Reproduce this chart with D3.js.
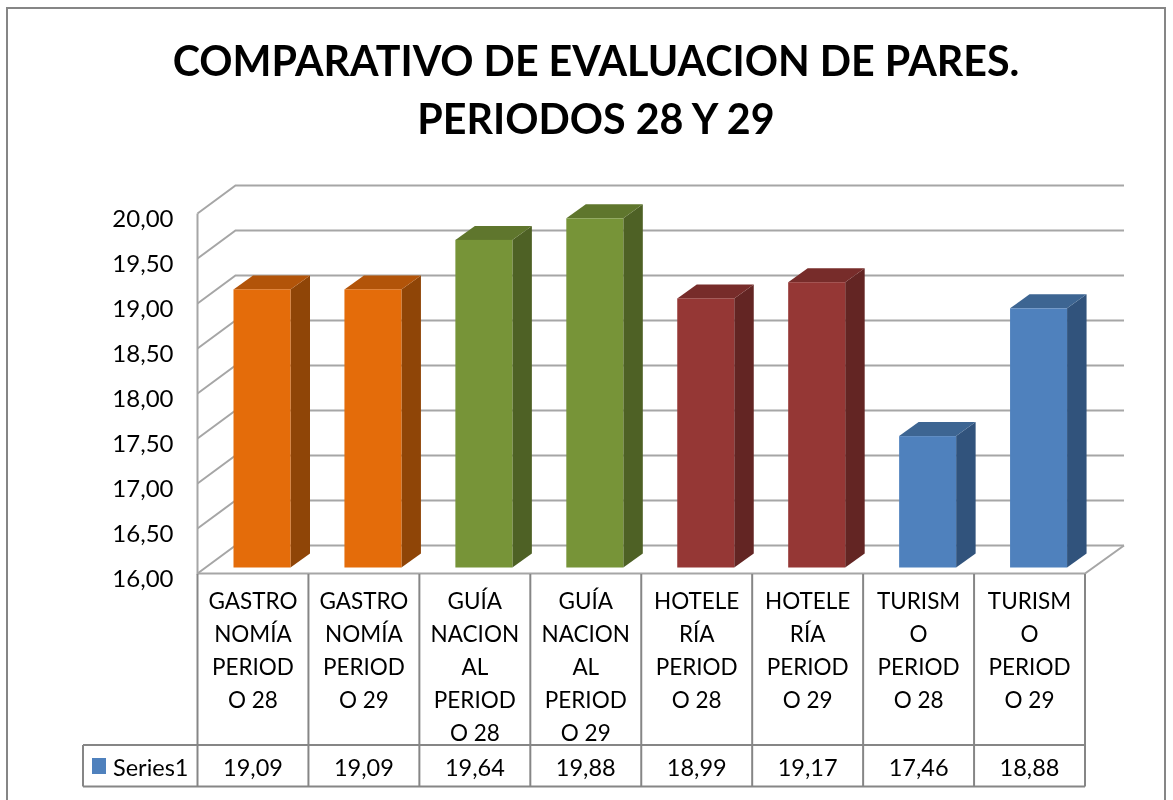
<!DOCTYPE html>
<html>
<head>
<meta charset="utf-8">
<script src="https://cdn.jsdelivr.net/npm/d3@7"></script>
<style>
html, body { margin: 0; padding: 0; background: #fff; }
svg { display: block; filter: blur(0.4px); }
text { font-family: Lato, "Open Sans", sans-serif; fill: #000; }
</style>
</head>
<body>
<div id="chart"></div>
<script>
var categoryLines = [
  ["GASTRO", "NOMÍA", "PERIOD", "O 28"],
  ["GASTRO", "NOMÍA", "PERIOD", "O 29"],
  ["GUÍA", "NACION", "AL", "PERIOD", "O 28"],
  ["GUÍA", "NACION", "AL", "PERIOD", "O 29"],
  ["HOTELE", "RÍA", "PERIOD", "O 28"],
  ["HOTELE", "RÍA", "PERIOD", "O 29"],
  ["TURISM", "O", "PERIOD", "O 28"],
  ["TURISM", "O", "PERIOD", "O 29"]
];
var values = [19.09, 19.09, 19.64, 19.88, 18.99, 19.17, 17.46, 18.88];
var groups = ["g", "g", "n", "n", "h", "h", "t", "t"];
var yTicks = [16, 16.5, 17, 17.5, 18, 18.5, 19, 19.5, 20];
var titleLines = ["COMPARATIVO DE EVALUACION DE PARES.", "PERIODOS 28 Y 29"];
var seriesName = "Series1";

var width = 1173, height = 800;
var left = 197.5, right = 1085, top_ = 213.5, base = 573.5;
var depthX = 38, depthY = 28;
var barDepthX = 19.5, barDepthY = 14;

var colors = {
  g: {front: "#e46c0a", top: "#b25409", side: "#8f4507"},
  n: {front: "#779438", top: "#5f762d", side: "#4e6125"},
  h: {front: "#953735", top: "#772c2a", side: "#632523"},
  t: {front: "#4f81bd", top: "#3d6592", side: "#31537c"}
};

var comma = function(v) { return d3.format(".2f")(v).replace(".", ","); };

var x = d3.scaleBand()
    .domain(d3.range(values.length))
    .range([left, right]);

var y = d3.scaleLinear()
    .domain([16, 20])
    .range([base, top_]);

var svg = d3.select("#chart").append("svg")
    .attr("width", width)
    .attr("height", height);

// outer frame, runs off the bottom of the picture
svg.append("rect")
    .attr("x", 7).attr("y", 8)
    .attr("width", 1158).attr("height", 820)
    .attr("fill", "#fff")
    .attr("stroke", "#868686")
    .attr("stroke-width", 2);

svg.selectAll(".title")
    .data(titleLines)
  .enter().append("text")
    .attr("class", "title")
    .attr("x", 596)
    .attr("y", function(d, i) { return 76 + i * 58; })
    .attr("text-anchor", "middle")
    .style("font-size", "41.2px")
    .style("font-weight", 700)
    .text(function(d) { return d; });

// walls and gridlines
var grid = svg.append("g")
    .attr("fill", "none")
    .attr("stroke", "#a6a6a6")
    .attr("stroke-width", 2);

grid.selectAll(".grid")
    .data(yTicks)
  .enter().append("path")
    .attr("class", "grid")
    .attr("d", function(d) {
      return "M" + left + "," + y(d) + "L" + (left + depthX) + "," + (y(d) - depthY) + "H1124";
    });

grid.append("path")
    .attr("d", "M" + left + "," + top_ + "V" + base + "H" + right +
      "L1124," + (base - depthY));

// bars
var bars = svg.selectAll(".bar")
    .data(values)
  .enter().append("g")
    .attr("class", "bar");

var barLeft = function(i) { return x(i) + 36; };
var barWidth = 57;
var barLift = 6;
var barBase = base - barLift;
var barTop = function(d) { return y(d) - barLift; };

bars.append("path")
    .attr("fill", function(d, i) { return colors[groups[i]].side; })
    .attr("d", function(d, i) {
      var r = barLeft(i) + barWidth;
      return "M" + r + "," + barTop(d) + "l" + barDepthX + "," + (-barDepthY) +
        "V" + (barBase - barDepthY) + "l" + (-barDepthX) + "," + barDepthY + "Z";
    });

bars.append("path")
    .attr("fill", function(d, i) { return colors[groups[i]].top; })
    .attr("d", function(d, i) {
      return "M" + barLeft(i) + "," + barTop(d) + "l" + barDepthX + "," + (-barDepthY) +
        "h" + barWidth + "l" + (-barDepthX) + "," + barDepthY + "Z";
    });

bars.append("rect")
    .attr("fill", function(d, i) { return colors[groups[i]].front; })
    .attr("x", function(d, i) { return barLeft(i); })
    .attr("y", function(d) { return barTop(d); })
    .attr("width", barWidth)
    .attr("height", function(d) { return barBase - barTop(d); });

// y axis, labels only
var yAxis = svg.append("g")
    .attr("transform", "translate(" + left + ",0)")
    .call(d3.axisLeft(y).tickValues(yTicks).tickFormat(comma).tickSize(0).tickPadding(24));
yAxis.select(".domain").remove();
yAxis.selectAll("text")
    .attr("dy", "0.55em")
    .style("font-size", "24px");

// data table
var table = svg.append("g")
    .attr("fill", "none")
    .attr("stroke", "#868686")
    .attr("stroke-width", 2);
var rowTop = 574, rowMid = 745, rowBottom = 786.5, legendLeft = 83;

table.selectAll(".col")
    .data(d3.range(values.length + 1))
  .enter().append("line")
    .attr("class", "col")
    .attr("x1", function(i) { return left + i * x.bandwidth(); })
    .attr("x2", function(i) { return left + i * x.bandwidth(); })
    .attr("y1", rowTop)
    .attr("y2", rowBottom);

table.append("path")
    .attr("d", "M" + legendLeft + "," + rowMid + "H" + right +
      "M" + legendLeft + "," + rowBottom + "H" + right +
      "M" + legendLeft + "," + rowMid + "V" + rowBottom);

var lineStep = 33;
svg.selectAll(".cat")
    .data(categoryLines)
  .enter().append("text")
    .attr("class", "cat")
    .attr("text-anchor", "middle")
    .style("font-size", "22.5px")
    .each(function(lines, i) {
      d3.select(this).selectAll("tspan")
          .data(lines)
        .enter().append("tspan")
          .attr("x", x(i) + x.bandwidth() / 2)
          .attr("y", function(d, j) { return 609 + j * lineStep; })
          .text(function(d) { return d; });
    });

svg.selectAll(".val")
    .data(values)
  .enter().append("text")
    .attr("class", "val")
    .attr("text-anchor", "middle")
    .attr("x", function(d, i) { return x(i) + x.bandwidth() / 2; })
    .attr("y", 776)
    .style("font-size", "23.5px")
    .text(comma);

svg.append("rect")
    .attr("x", 92).attr("y", 758)
    .attr("width", 14).attr("height", 16)
    .attr("fill", colors.t.front);

svg.append("text")
    .attr("x", 113).attr("y", 776)
    .style("font-size", "23.5px")
    .text(seriesName);
</script>
</body>
</html>
